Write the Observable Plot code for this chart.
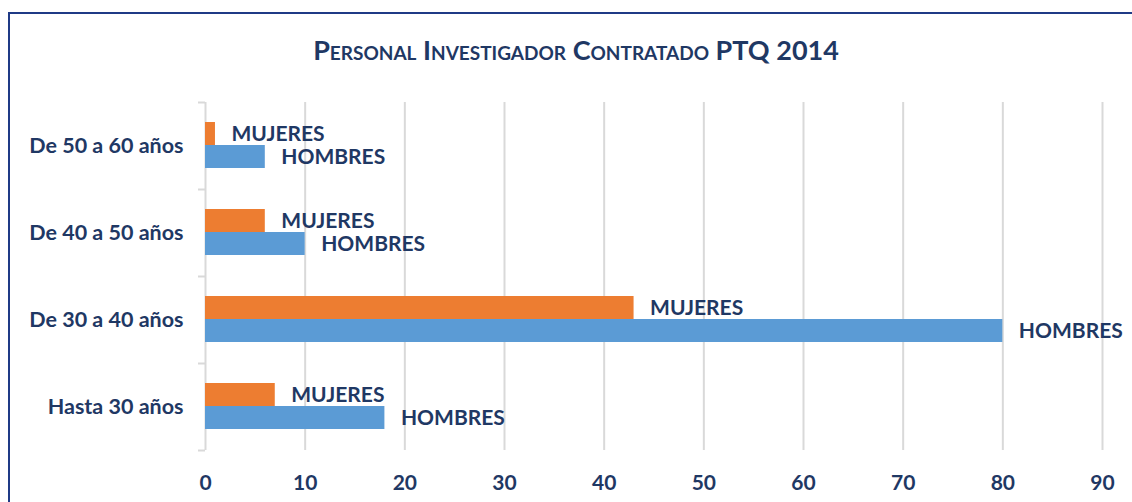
<!DOCTYPE html>
<html><head><meta charset="utf-8">
<script src="https://cdn.jsdelivr.net/npm/d3@7"></script>
<script src="https://cdn.jsdelivr.net/npm/@observablehq/plot@0.6"></script>
<style>
html,body{margin:0;padding:0;background:#fff;width:1132px;height:502px;overflow:hidden;}
#frame{position:absolute;left:8px;top:12px;right:-10px;bottom:-10px;border-top:2px solid #1F3A86;border-left:2px solid #1F3A86;pointer-events:none;}
#title{position:absolute;left:20px;top:35px;width:1112px;height:30px;line-height:30px;text-align:center;font-family:Lato,sans-serif;font-weight:bold;font-size:27px;font-variant:small-caps;color:#1F3864;}
#chart{position:absolute;left:0;top:80px;}
</style>
</head><body>
<div id="title">Personal Investigador Contratado PTQ 2014</div>
<div id="chart"></div>
<div id="frame"></div>
<script>
const categories = ["De 50 a 60 años", "De 40 a 50 años", "De 30 a 40 años", "Hasta 30 años"];
const mujeres = [1, 6, 43, 7];
const hombres = [6, 10, 80, 18];
const xTicks = [0, 10, 20, 30, 40, 50, 60, 70, 80, 90];
const labelM = "MUJERES";
const labelH = "HOMBRES";

const rowsM = categories.map((c, i) => ({cat: c, v: mujeres[i], label: labelM}));
const rowsH = categories.map((c, i) => ({cat: c, v: hombres[i], label: labelH}));

const navy = "#1F3864";
const grid = "#D9D9D9";
const H = 422, mt = 22, mb = 52;
const half = (H - mt - mb) / categories.length / 2;
const textStyle = {fontFamily: "Lato, sans-serif", fontWeight: "bold", fontSize: 21, fill: navy, textAnchor: "start", dx: 16};

const chart = Plot.plot({
  width: 1132, height: H,
  marginTop: mt, marginBottom: mb, marginLeft: 205, marginRight: 30,
  x: {domain: [0, 90], ticks: xTicks},
  y: {domain: categories, padding: 0},
  style: {fontFamily: "Lato, sans-serif", background: "white"},
  marks: [
    Plot.gridX(xTicks, {stroke: grid, strokeOpacity: 1, strokeWidth: 2}),
    Plot.ruleY(categories, {y: d => d, dy: -half, x1: 0, x2: 0, insetLeft: -7, stroke: grid, strokeWidth: 2}),
    Plot.ruleY(categories.slice(-1), {y: d => d, dy: half, x1: 0, x2: 0, insetLeft: -7, stroke: grid, strokeWidth: 2}),
    Plot.barX(rowsM, {x: "v", y: "cat", fill: "#ED7D31", insetTop: 20, insetBottom: 44}),
    Plot.barX(rowsH, {x: "v", y: "cat", fill: "#5B9BD5", insetTop: 43, insetBottom: 21}),
    Plot.text(rowsM, {x: "v", y: "cat", text: "label", dy: -12, ...textStyle}),
    Plot.text(rowsH, {x: "v", y: "cat", text: "label", dy: 11, ...textStyle}),
    Plot.axisX(xTicks, {tickSize: 0, tickPadding: 25, label: null, fontSize: 21, fontWeight: "bold", fill: navy}),
    Plot.axisY({tickSize: 0, tickPadding: 22, label: null, fontSize: 21.5, fontWeight: "bold", fill: navy})
  ]
});
document.getElementById("chart").appendChild(chart);
</script>
</body></html>
